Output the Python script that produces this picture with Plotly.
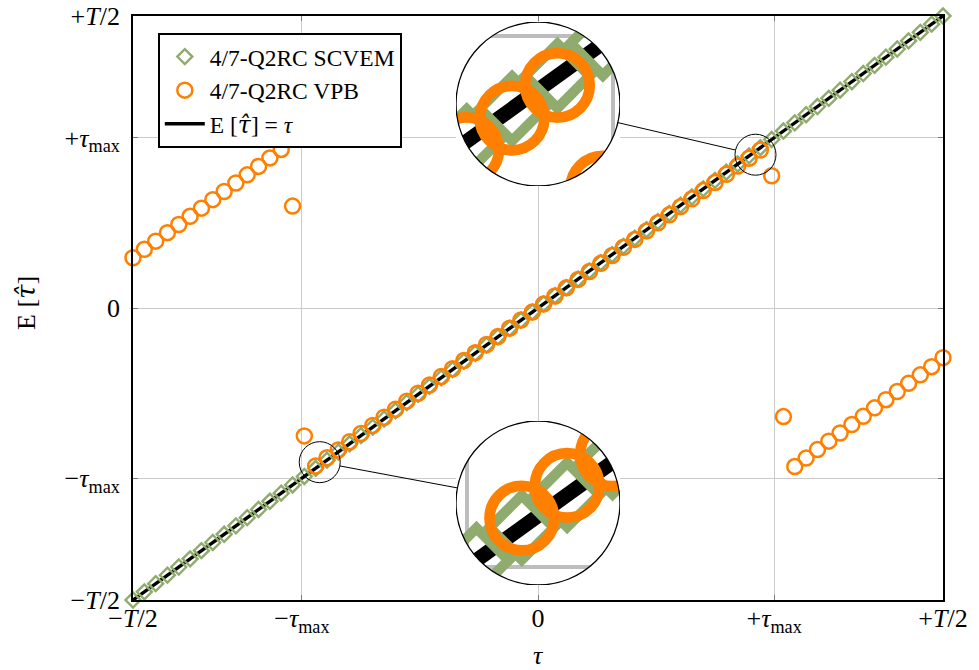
import math
import plotly.graph_objects as go

# ---------------------------------------------------------------- data
HALF_T = 1.0      # axis limit, T/2
TAU_MAX = 0.583   # +-tau_max, in units of T/2

tau = [-1.000, -0.972, -0.944, -0.915, -0.887, -0.859, -0.831, -0.803, -0.775, -0.746,
       -0.718, -0.690, -0.662, -0.634, -0.606, -0.577, -0.549, -0.521, -0.493, -0.465,
       -0.437, -0.408, -0.380, -0.352, -0.324, -0.296, -0.268, -0.239, -0.211, -0.183,
       -0.155, -0.127, -0.099, -0.070, -0.042, -0.014,
       0.014, 0.042, 0.070, 0.099, 0.127, 0.155, 0.183, 0.211, 0.239, 0.268,
       0.296, 0.324, 0.352, 0.380, 0.408, 0.437, 0.465, 0.493, 0.521, 0.549,
       0.577, 0.606, 0.634, 0.662, 0.690, 0.718, 0.746, 0.775, 0.803, 0.831,
       0.859, 0.887, 0.915, 0.944, 0.972, 1.000]

scvem_est = [-1.000, -0.972, -0.944, -0.915, -0.887, -0.859, -0.831, -0.803, -0.775, -0.746,
             -0.718, -0.690, -0.662, -0.634, -0.606, -0.577, -0.549, -0.521, -0.493, -0.465,
             -0.437, -0.408, -0.380, -0.352, -0.324, -0.296, -0.268, -0.239, -0.211, -0.183,
             -0.155, -0.127, -0.099, -0.070, -0.042, -0.014,
             0.014, 0.042, 0.070, 0.099, 0.127, 0.155, 0.183, 0.211, 0.239, 0.268,
             0.296, 0.324, 0.352, 0.380, 0.408, 0.437, 0.465, 0.493, 0.521, 0.549,
             0.577, 0.606, 0.634, 0.662, 0.690, 0.718, 0.746, 0.775, 0.803, 0.831,
             0.859, 0.887, 0.915, 0.944, 0.972, 1.000]

vpb_est = [0.172, 0.201, 0.229, 0.258, 0.286, 0.314, 0.342, 0.371, 0.399, 0.428,
           0.456, 0.485, 0.514, 0.543, 0.349, -0.438,
           -0.541, -0.513, -0.486, -0.458, -0.430, -0.402, -0.374, -0.347, -0.319, -0.292,
           -0.264, -0.235, -0.208, -0.180, -0.153, -0.125, -0.098, -0.069, -0.041, -0.014,
           0.014, 0.041, 0.069, 0.098, 0.125, 0.153, 0.180, 0.208, 0.235, 0.264,
           0.292, 0.319, 0.347, 0.374, 0.402, 0.430, 0.458, 0.486, 0.513, 0.541,
           0.453, -0.372,
           -0.543, -0.514, -0.485, -0.456, -0.428, -0.399, -0.371, -0.342, -0.314, -0.286,
           -0.258, -0.229, -0.201, -0.170]

ref_x = [-HALF_T, HALF_T]
ref_y = [-HALF_T, HALF_T]

tick_vals = [-HALF_T, -TAU_MAX, 0, TAU_MAX, HALF_T]
tick_text = ["\u2212<i>T</i>/2", "\u2212<i>\u03c4</i><sub>max</sub>", "0",
             "+<i>\u03c4</i><sub>max</sub>", "+<i>T</i>/2"]

TAU_HAT = "<span style=\"font-family:'DejaVu Serif'\"><i>\u03c4\u0302</i></span>"
names = ["4/7-Q2RC SCVEM", "4/7-Q2RC VPB", "E [" + TAU_HAT + "] = <i>\u03c4</i>"]

# ---------------------------------------------------------------- style
FONT = "Liberation Serif, DejaVu Serif, serif"
GREEN = "#8fab6d"
ORANGE = "#ff8000"
GRID = "#cbcbcb"

W, H = 979, 670
ML, MR, MT, MB = 133, 36, 16, 70
PW, PH = W - ML - MR, H - MT - MB


def to_px(x, y):
    return (ML + (x + HALF_T) / (2 * HALF_T) * PW,
            MT + (HALF_T - y) / (2 * HALF_T) * PH)


def to_paper(px, py):
    return (px - ML) / PW, (H - MB - py) / PH


# magnifier lenses: focus point (data), lens radius (px), inset centre (px)
MAG = 4.0
MARK_MAG = 4.3
LENS_R = 20.5
INSET_R = LENS_R * MAG
lenses = [
    {"focus": (0.537, 0.525), "center": (538, 104), "ax": ("x2", "y2")},
    {"focus": (-0.539, -0.528), "center": (538, 503), "ax": ("x3", "y3")},
]

fig = go.Figure()


def add_series(xa, ya, scale, legend):
    common = dict(xaxis=xa, yaxis=ya, showlegend=legend, hoverinfo="skip",
                  cliponaxis=not legend)
    fig.add_trace(go.Scatter(x=ref_x, y=ref_y, mode="lines", name=names[2],
                             legendrank=3,
                             line=dict(color="black", width=3.4 * scale), **common))
    fig.add_trace(go.Scatter(x=tau, y=scvem_est, mode="markers", name=names[0],
                             legendrank=1,
                             marker=dict(symbol="diamond-open", size=11.5 * scale,
                                         color=GREEN,
                                         line=dict(color=GREEN, width=2.4 * scale)),
                             **common))
    fig.add_trace(go.Scatter(x=tau, y=vpb_est, mode="markers", name=names[1],
                             legendrank=2,
                             marker=dict(symbol="circle-open", size=15 * scale,
                                         color=ORANGE,
                                         line=dict(color=ORANGE, width=2.5 * scale)),
                             **common))


# main plot
add_series("x", "y", 1.0, True)

# magnified copies
for lens in lenses:
    add_series(lens["ax"][0], lens["ax"][1], MARK_MAG, False)

axis_font = dict(family=FONT, size=26, color="black")
layout = dict(
    width=W, height=H,
    margin=dict(l=ML, r=MR, t=MT, b=MB, pad=0),
    paper_bgcolor="white", plot_bgcolor="white",
    showlegend=True,
    xaxis=dict(range=[-HALF_T, HALF_T], tickvals=tick_vals, ticktext=tick_text,
               ticks="inside", ticklen=5, tickcolor="#7a7a7a", tickwidth=1,
               showline=True, mirror="ticks", linecolor="black", linewidth=1.8,
               showgrid=True, gridcolor=GRID, gridwidth=1, zeroline=False,
               tickfont=axis_font, automargin=False, ticklabelstandoff=-6),
    yaxis=dict(range=[-HALF_T, HALF_T], tickvals=tick_vals, ticktext=tick_text,
               ticks="inside", ticklen=5, tickcolor="#7a7a7a", tickwidth=1,
               showline=True, mirror="ticks", linecolor="black", linewidth=1.8,
               showgrid=True, gridcolor=GRID, gridwidth=1, zeroline=False,
               tickfont=axis_font, automargin=False, ticklabelstandoff=6),
    legend=dict(x=to_paper(158, 33)[0], y=to_paper(158, 33)[1],
                xanchor="left", yanchor="top", bgcolor="white",
                bordercolor="black", borderwidth=1.8,
                font=dict(family=FONT, size=23.5, color="black"),
                traceorder="normal", itemwidth=40),
)

shapes = []
for lens in lenses:
    fx, fy = lens["focus"]
    bx, by = lens["center"]
    xa, ya = lens["ax"]
    hx = LENS_R * 2 * HALF_T / PW
    hy = LENS_R * 2 * HALF_T / PH
    x0p, y0p = to_paper(bx - INSET_R, by + INSET_R)
    x1p, y1p = to_paper(bx + INSET_R, by - INSET_R)
    ax_common = dict(showticklabels=False, ticks="", showline=False, zeroline=False,
                     showgrid=True, gridcolor="#bdbdbd", gridwidth=3.5,
                     tickvals=tick_vals, fixedrange=True, automargin=False)
    layout["xaxis" + xa[1:]] = dict(domain=[x0p, x1p], range=[fx - hx, fx + hx],
                                     anchor=ya, **ax_common)
    layout["yaxis" + ya[1:]] = dict(domain=[y0p, y1p], range=[fy - hy, fy + hy],
                                     anchor=xa, **ax_common)

    # white mask around the round inset (square minus disc)
    s = INSET_R + 1
    n = 240
    circ = "L".join(f"{INSET_R * math.cos(2 * math.pi * i / n):.2f},"
                    f"{INSET_R * math.sin(2 * math.pi * i / n):.2f}" for i in range(n))
    path = f"M{-s},{-s}L{s},{-s}L{s},{s}L{-s},{s}ZM{circ}Z"
    shapes.append(dict(type="path", xref=xa, yref=ya, xsizemode="pixel",
                       ysizemode="pixel", xanchor=fx, yanchor=fy, path=path,
                       fillcolor="white", fillrule="evenodd", line=dict(width=0),
                       layer="above"))
    # inset outline
    shapes.append(dict(type="circle", xref=xa, yref=ya, xsizemode="pixel",
                       ysizemode="pixel", xanchor=fx, yanchor=fy,
                       x0=-INSET_R, x1=INSET_R, y0=-INSET_R, y1=INSET_R,
                       line=dict(color="black", width=1.3), layer="above"))
    # lens outline on the main plot
    shapes.append(dict(type="circle", xref="x", yref="y", xsizemode="pixel",
                       ysizemode="pixel", xanchor=fx, yanchor=fy,
                       x0=-LENS_R, x1=LENS_R, y0=-LENS_R, y1=LENS_R,
                       line=dict(color="black", width=1.0), layer="above"))
    # connector between lens and inset
    sx, sy = to_px(fx, fy)
    dx, dy = bx - sx, by - sy
    d = math.hypot(dx, dy)
    ux, uy = dx / d, dy / d
    p0 = to_paper(sx + LENS_R * ux, sy + LENS_R * uy)
    p1 = to_paper(bx - INSET_R * ux, by - INSET_R * uy)
    shapes.append(dict(type="line", xref="paper", yref="paper",
                       x0=p0[0], y0=p0[1], x1=p1[0], y1=p1[1],
                       line=dict(color="black", width=1.0), layer="above"))

layout["shapes"] = shapes

# axis titles
tx, ty = to_paper(538, 655)
yx, yy = to_paper(26, 303)
layout["annotations"] = [
    dict(text="<i>\u03c4</i>", xref="paper", yref="paper", x=tx, y=ty,
         xanchor="center", yanchor="middle", showarrow=False,
         font=dict(family=FONT, size=26, color="black")),
    dict(text="E [" + TAU_HAT + "]", xref="paper", yref="paper", x=yx, y=yy,
         xanchor="center", yanchor="middle", showarrow=False, textangle=-90,
         font=dict(family=FONT, size=26, color="black")),
]

fig.update_layout(**layout)
fig.write_html("out.html")
